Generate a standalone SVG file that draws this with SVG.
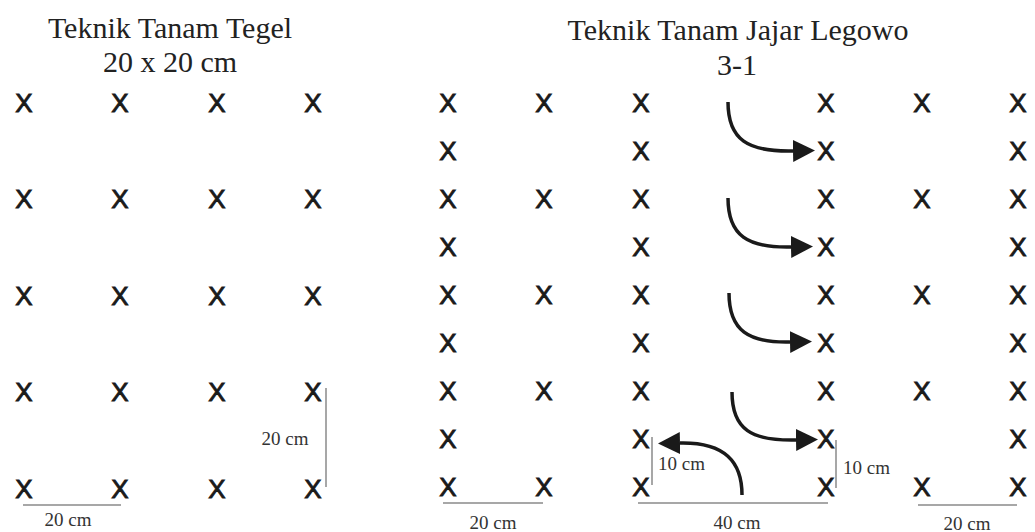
<svg xmlns="http://www.w3.org/2000/svg" width="1035" height="532" viewBox="0 0 1035 532">
<style>
.t{font-family:"Liberation Serif","Times New Roman",serif;font-size:30px;fill:#222;text-anchor:middle}
.x{font-family:"Liberation Sans",Arial,sans-serif;font-size:26px;fill:#1a1a1a;stroke:#1a1a1a;stroke-width:0.9;text-anchor:middle}
.d{font-family:"Liberation Serif","Times New Roman",serif;font-size:19px;fill:#333}
.dl{stroke:#8a8a8a;stroke-width:1.5;fill:none}
.ar{stroke:#1a1a1a;stroke-width:3.5;fill:none;marker-end:url(#ah)}
</style>
<defs>
<marker id="ah" markerUnits="userSpaceOnUse" markerWidth="24" markerHeight="24" refX="0" refY="11" orient="auto" viewBox="0 0 24 24">
<path d="M0,0 L22,11 L0,22 z" fill="#1a1a1a"/>
</marker>
</defs>
<rect width="1035" height="532" fill="#fff"/>
<g id="titles">
<text class="t" x="170" y="38">Teknik Tanam Tegel</text>
<text class="t" x="170" y="72">20 x 20 cm</text>
<text class="t" x="738" y="40">Teknik Tanam Jajar Legowo</text>
<text class="t" x="737" y="75">3-1</text>
</g>
<g id="tegel">
<g id="t00"><text class="x" x="24" y="111.5">X</text></g>
<g id="t01"><text class="x" x="120" y="111.5">X</text></g>
<g id="t02"><text class="x" x="217" y="111.5">X</text></g>
<g id="t03"><text class="x" x="313" y="111.5">X</text></g>
<g id="t10"><text class="x" x="24" y="208">X</text></g>
<g id="t11"><text class="x" x="120" y="208">X</text></g>
<g id="t12"><text class="x" x="217" y="208">X</text></g>
<g id="t13"><text class="x" x="313" y="208">X</text></g>
<g id="t20"><text class="x" x="24" y="304.5">X</text></g>
<g id="t21"><text class="x" x="120" y="304.5">X</text></g>
<g id="t22"><text class="x" x="217" y="304.5">X</text></g>
<g id="t23"><text class="x" x="313" y="304.5">X</text></g>
<g id="t30"><text class="x" x="24" y="401">X</text></g>
<g id="t31"><text class="x" x="120" y="401">X</text></g>
<g id="t32"><text class="x" x="217" y="401">X</text></g>
<g id="t33"><text class="x" x="313" y="401">X</text></g>
<g id="t40"><text class="x" x="24" y="497.5">X</text></g>
<g id="t41"><text class="x" x="120" y="497.5">X</text></g>
<g id="t42"><text class="x" x="217" y="497.5">X</text></g>
<g id="t43"><text class="x" x="313" y="497.5">X</text></g>
</g>
<g id="legowo">
<g id="j0a"><text class="x" x="448" y="111.5">X</text></g>
<g id="j0b"><text class="x" x="544" y="111.5">X</text></g>
<g id="j0c"><text class="x" x="641" y="111.5">X</text></g>
<g id="j0d"><text class="x" x="826" y="111.5">X</text></g>
<g id="j0e"><text class="x" x="922" y="111.5">X</text></g>
<g id="j0f"><text class="x" x="1018" y="111.5">X</text></g>
<g id="j1a"><text class="x" x="448" y="159.6">X</text></g>
<g id="j1c"><text class="x" x="641" y="159.6">X</text></g>
<g id="j1d"><text class="x" x="826" y="159.6">X</text></g>
<g id="j1f"><text class="x" x="1018" y="159.6">X</text></g>
<g id="j2a"><text class="x" x="448" y="207.7">X</text></g>
<g id="j2b"><text class="x" x="544" y="207.7">X</text></g>
<g id="j2c"><text class="x" x="641" y="207.7">X</text></g>
<g id="j2d"><text class="x" x="826" y="207.7">X</text></g>
<g id="j2e"><text class="x" x="922" y="207.7">X</text></g>
<g id="j2f"><text class="x" x="1018" y="207.7">X</text></g>
<g id="j3a"><text class="x" x="448" y="255.8">X</text></g>
<g id="j3c"><text class="x" x="641" y="255.8">X</text></g>
<g id="j3d"><text class="x" x="826" y="255.8">X</text></g>
<g id="j3f"><text class="x" x="1018" y="255.8">X</text></g>
<g id="j4a"><text class="x" x="448" y="303.9">X</text></g>
<g id="j4b"><text class="x" x="544" y="303.9">X</text></g>
<g id="j4c"><text class="x" x="641" y="303.9">X</text></g>
<g id="j4d"><text class="x" x="826" y="303.9">X</text></g>
<g id="j4e"><text class="x" x="922" y="303.9">X</text></g>
<g id="j4f"><text class="x" x="1018" y="303.9">X</text></g>
<g id="j5a"><text class="x" x="448" y="352">X</text></g>
<g id="j5c"><text class="x" x="641" y="352">X</text></g>
<g id="j5d"><text class="x" x="826" y="352">X</text></g>
<g id="j5f"><text class="x" x="1018" y="352">X</text></g>
<g id="j6a"><text class="x" x="448" y="400.1">X</text></g>
<g id="j6b"><text class="x" x="544" y="400.1">X</text></g>
<g id="j6c"><text class="x" x="641" y="400.1">X</text></g>
<g id="j6d"><text class="x" x="826" y="400.1">X</text></g>
<g id="j6e"><text class="x" x="922" y="400.1">X</text></g>
<g id="j6f"><text class="x" x="1018" y="400.1">X</text></g>
<g id="j7a"><text class="x" x="448" y="448.2">X</text></g>
<g id="j7c"><text class="x" x="641" y="448.2">X</text></g>
<g id="j7d"><text class="x" x="826" y="448.2">X</text></g>
<g id="j7f"><text class="x" x="1018" y="448.2">X</text></g>
<g id="j8a"><text class="x" x="448" y="496.3">X</text></g>
<g id="j8b"><text class="x" x="544" y="496.3">X</text></g>
<g id="j8c"><text class="x" x="641" y="496.3">X</text></g>
<g id="j8d"><text class="x" x="826" y="496.3">X</text></g>
<g id="j8e"><text class="x" x="922" y="496.3">X</text></g>
<g id="j8f"><text class="x" x="1018" y="496.3">X</text></g>
</g>
<g id="dimensions">
<path class="dl" d="M23,505 H121"/>
<text class="d" x="68" y="526" text-anchor="middle">20 cm</text>
<path class="dl" d="M326,388 V487"/>
<text class="d" x="285" y="445" text-anchor="middle">20 cm</text>
<path class="dl" d="M443,503 H543"/>
<text class="d" x="493" y="529" text-anchor="middle">20 cm</text>
<path class="dl" d="M638,503 H828"/>
<text class="d" x="737" y="529" text-anchor="middle">40 cm</text>
<path class="dl" d="M652,437 V485"/>
<text class="d" x="658" y="470">10 cm</text>
<path class="dl" d="M836,440 V488"/>
<text class="d" x="843" y="474">10 cm</text>
<path class="dl" d="M918,505 H1017"/>
<text class="d" x="967" y="530" text-anchor="middle">20 cm</text>
</g>
<g id="connectors">
<path class="ar" d="M728,102 C728,140 748,152 793,151"/>
<path class="ar" d="M728,198 C728,236 748,248 791,247"/>
<path class="ar" d="M729,293 C729,331 749,343 790,342"/>
<path class="ar" d="M732,392 C732,430 752,441 796,440"/>
<path class="ar" d="M742,495 C742,462 725,442 680,443"/>
</g>
</svg>
